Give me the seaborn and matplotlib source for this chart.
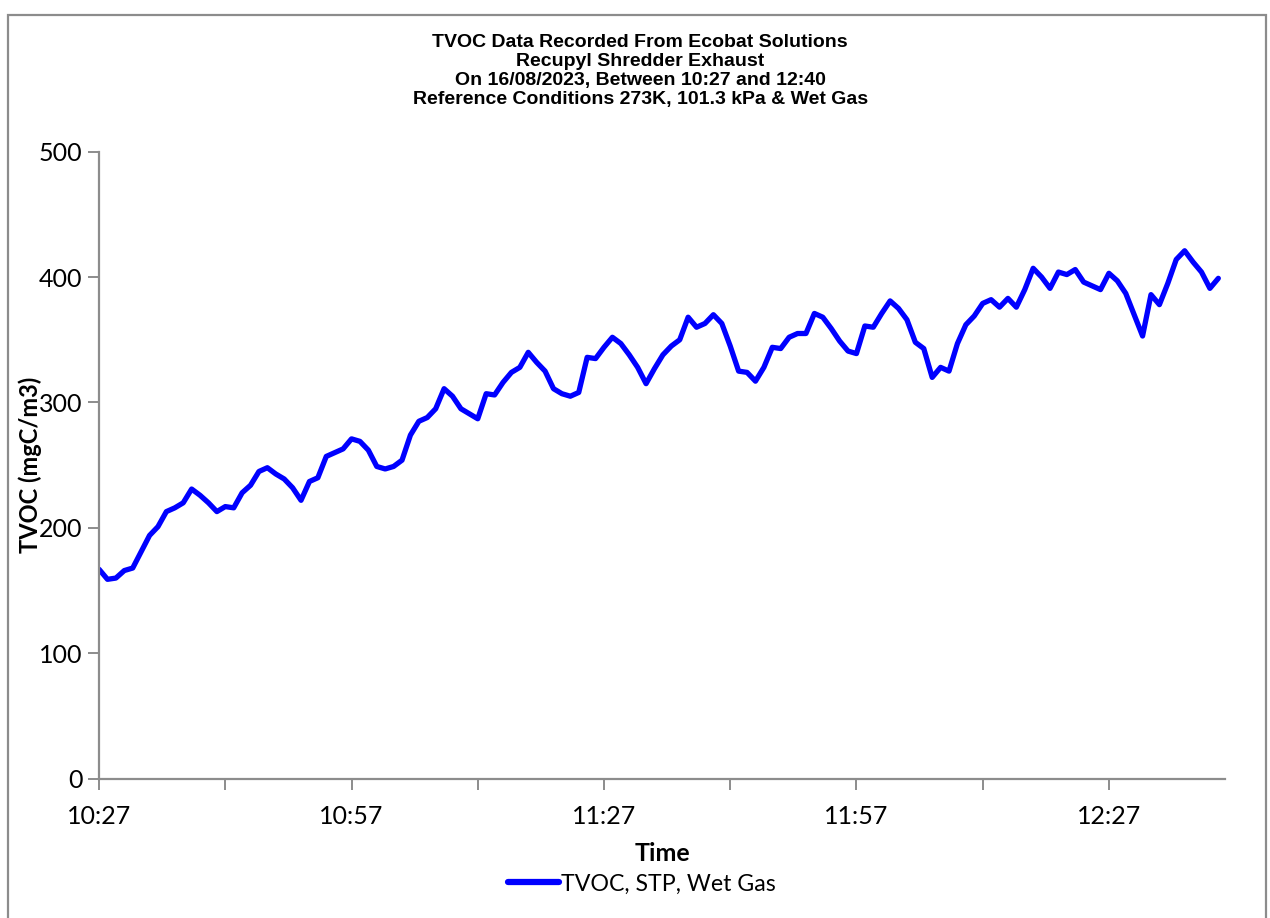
import matplotlib
matplotlib.use("Agg")
import matplotlib.pyplot as plt
import matplotlib.patches as patches
import seaborn as sns
import pandas as pd

# === DATA (one reading per minute from 10:27 to 12:40) ===
TICK_LABELS = ["10:27", "10:57", "11:27", "11:57", "12:27"]
TVOC = [
    167, 159, 160, 166, 168, 181, 194, 201, 213, 216,
    220, 231, 226, 220, 213, 217, 216, 228, 234, 245,
    248, 243, 239, 232, 222, 237, 240, 257, 260, 263,
    271, 269, 262, 249, 247, 249, 254, 274, 285, 288,
    295, 311, 305, 295, 291, 287, 307, 306, 316, 324,
    328, 340, 332, 325, 311, 307, 305, 308, 336, 335,
    344, 352, 347, 338, 328, 315, 327, 338, 345, 350,
    368, 360, 363, 370, 363, 345, 325, 324, 317, 328,
    344, 343, 352, 355, 355, 371, 368, 359, 349, 341,
    339, 361, 360, 371, 381, 375, 366, 348, 343, 320,
    328, 325, 347, 362, 369, 379, 382, 376, 383, 376,
    390, 407, 400, 391, 404, 402, 406, 396, 393, 390,
    403, 397, 387, 370, 353, 386, 378, 395, 414, 421,
    412, 404, 391, 399,
]
MINUTES = list(range(len(TVOC)))
SERIES_NAME = "TVOC, STP, Wet Gas"

TITLE_LINES = [
    "TVOC Data Recorded From Ecobat Solutions",
    "Recupyl Shredder Exhaust",
    "On 16/08/2023, Between 10:27 and 12:40",
    "Reference Conditions 273K, 101.3 kPa & Wet Gas",
]

df = pd.DataFrame({"minute": MINUTES, "tvoc": TVOC, "series": SERIES_NAME})

# === STYLE ===
sns.set_style("white")
plt.rcParams["font.family"] = ["Lato", "DejaVu Sans"]
plt.rcParams["text.color"] = "black"
plt.rcParams["axes.labelcolor"] = "black"
plt.rcParams["xtick.color"] = "black"
plt.rcParams["ytick.color"] = "black"
GREY = "#8c8c8c"

fig = plt.figure(figsize=(12.7, 9.18), dpi=100)
ax = fig.add_axes([0.078, 0.1517, 0.8866, 0.6831])

sns.lineplot(data=df, x="minute", y="tvoc", hue="series", palette=["#0000ff"],
             linewidth=3.8, ax=ax, legend=True)

# axes
ax.set_xlim(0, 133.8)
ax.set_ylim(0, 500)
ax.set_yticks(range(0, 501, 100))
ax.set_xticks([0, 30, 60, 90, 120])
ax.set_xticklabels(TICK_LABELS)
ax.set_xticks([15, 45, 75, 105], minor=True)
for side in ["top", "right"]:
    ax.spines[side].set_visible(False)
for side in ["left", "bottom"]:
    ax.spines[side].set_color(GREY)
    ax.spines[side].set_linewidth(1.6)
ax.tick_params(axis="both", which="both", direction="out", length=8, width=1.4,
               color=GREY, labelcolor="black", labelsize=18, left=True, bottom=True)
ax.tick_params(axis="x", pad=11)
ax.tick_params(axis="y", pad=4)
ax.set_ylabel("")
ax.set_xlabel("Time", fontsize=18, fontweight="bold", labelpad=10)

fig.text(0.0236, 0.4935, "TVOC (mgC/m3)", rotation=90, fontsize=17,
         fontweight="bold", ha="center", va="center")

# legend below the axis title
leg = ax.legend(loc="upper center", bbox_to_anchor=(0.482, -0.118), frameon=False,
                fontsize=16.7, handlelength=2.2, handletextpad=0.1)
for line in leg.get_lines():
    line.set_linewidth(4.5)

# title block
for i, line in enumerate(TITLE_LINES):
    fig.text(0.504, 0.9535 - i * 0.0207, line, ha="center", va="center",
             fontsize=14, fontweight="bold", family=["Liberation Sans"])

# outer chart frame
frame = patches.Rectangle((8 / 1270, -0.02), 1258 / 1270, 1 - 15 / 918 + 0.02,
                          transform=fig.transFigure, fill=False,
                          edgecolor=GREY, linewidth=1.6)
fig.patches.append(frame)

plt.savefig("out.png", dpi=100)
plt.close()
